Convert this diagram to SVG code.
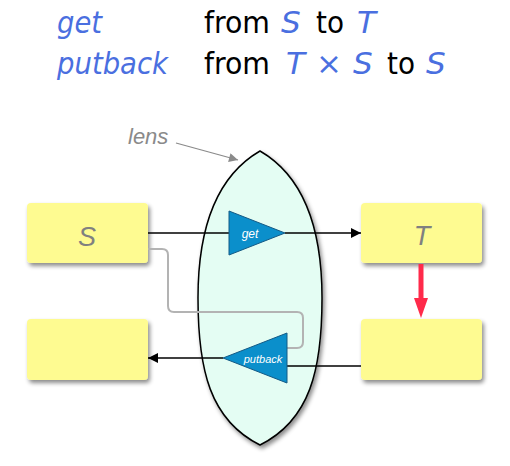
<svg xmlns="http://www.w3.org/2000/svg" width="510" height="466" viewBox="0 0 510 466">
<style>
.hdr{font-family:"DejaVu Sans",sans-serif;font-size:31px}
.blue{fill:#4a6fe0;font-style:italic}
.blk{fill:#000}
.box{fill:#fefb91;filter:url(#sh)}
.boxlbl{font-family:"Liberation Sans",sans-serif;font-style:italic;font-size:27px;fill:#808080;text-anchor:middle}
.tri{fill:#0b8fcb;stroke:#145a85;stroke-width:1}
.trilbl{font-family:"Liberation Sans",sans-serif;font-style:italic;fill:#fff;text-anchor:middle}
.wire{fill:none;stroke:#000;stroke-width:1.6}
</style>
<defs>
<filter id="sh" x="-20%" y="-20%" width="150%" height="150%">
<feDropShadow dx="2" dy="3" stdDeviation="2" flood-color="#000" flood-opacity="0.45"/>
</filter>
<marker id="ah" viewBox="0 0 10 10" refX="10" refY="5" markerWidth="15" markerHeight="10" markerUnits="userSpaceOnUse" orient="auto">
<path d="M0,0 L10,5 L0,10 Z" fill="#000"/>
</marker>
<marker id="ahg" viewBox="0 0 10 10" refX="10" refY="5" markerWidth="13" markerHeight="9" markerUnits="userSpaceOnUse" orient="auto">
<path d="M0,0 L10,5 L0,10 Z" fill="#8a8a8a"/>
</marker>
</defs>

<g id="header">
<text class="hdr blue" x="57" y="33" textLength="45" lengthAdjust="spacingAndGlyphs">get</text>
<text class="hdr blk" x="204" y="33" textLength="66" lengthAdjust="spacingAndGlyphs">from</text>
<text class="hdr blue" x="281" y="33">S</text>
<text class="hdr blk" x="316" y="33" textLength="28" lengthAdjust="spacingAndGlyphs">to</text>
<text class="hdr blue" x="357" y="33">T</text>
<text class="hdr blue" x="57" y="74" textLength="111" lengthAdjust="spacingAndGlyphs">putback</text>
<text class="hdr blk" x="204" y="74" textLength="66" lengthAdjust="spacingAndGlyphs">from</text>
<text class="hdr blue" x="286" y="74">T</text>
<text class="hdr blue" x="316" y="74">×</text>
<text class="hdr blue" x="353" y="74">S</text>
<text class="hdr blk" x="387" y="74" textLength="28" lengthAdjust="spacingAndGlyphs">to</text>
<text class="hdr blue" x="426" y="74">S</text>
</g>

<g id="lens">
<path d="M260,151 C310,180 322,240 322,298 C322,370 310,420 260,445 C210,420 198,370 198,298 C198,240 210,180 260,151 Z" fill="#e4fdf3" stroke="#000" stroke-width="1.5" filter="url(#sh)"/>
</g>

<g id="lens-label">
<text x="128" y="144" font-family="Liberation Sans, sans-serif" font-style="italic" font-size="22" fill="#8a8a8a">lens</text>
<line x1="176" y1="143" x2="238" y2="160" stroke="#8a8a8a" stroke-width="1.2" marker-end="url(#ahg)"/>
</g>

<g id="node-S">
<rect class="box" x="27" y="203" width="121" height="60" rx="4"/>
<text class="boxlbl" x="87" y="246">S</text>
</g>
<g id="node-T">
<rect class="box" x="361" y="203" width="121" height="60" rx="4"/>
<text class="boxlbl" x="422" y="245">T</text>
</g>
<g id="node-S2">
<rect class="box" x="27" y="319" width="121" height="61" rx="4"/>
</g>
<g id="node-T2">
<rect class="box" x="361" y="319" width="121" height="61" rx="4"/>
</g>

<g id="connectors">
<path d="M148,249 H162 Q168,249 168,255 V306 Q168,312 174,312 H297 Q303,312 303,318 V342 Q303,348 297,348 H287" fill="none" stroke="#b3b3b3" stroke-width="2"/>
<line class="wire" x1="148" y1="233" x2="229" y2="233"/>
<line class="wire" x1="285" y1="233" x2="361" y2="233" marker-end="url(#ah)"/>
<line class="wire" x1="361" y1="366" x2="287" y2="366"/>
<line class="wire" x1="223" y1="358" x2="148" y2="358" marker-end="url(#ah)"/>
<line x1="421" y1="264" x2="421" y2="300" stroke="#ff2a4a" stroke-width="5"/>
<path d="M414,298 L428,298 L421,318 Z" fill="#ff2a4a"/>
</g>

<g id="get">
<path class="tri" d="M229,211 L285,233 L229,255 Z"/>
<text class="trilbl" x="250" y="238" font-size="12">get</text>
</g>
<g id="putback">
<path class="tri" d="M287,333 L287,383 L223,358 Z"/>
<text class="trilbl" x="263" y="363" font-size="11">putback</text>
</g>
</svg>
